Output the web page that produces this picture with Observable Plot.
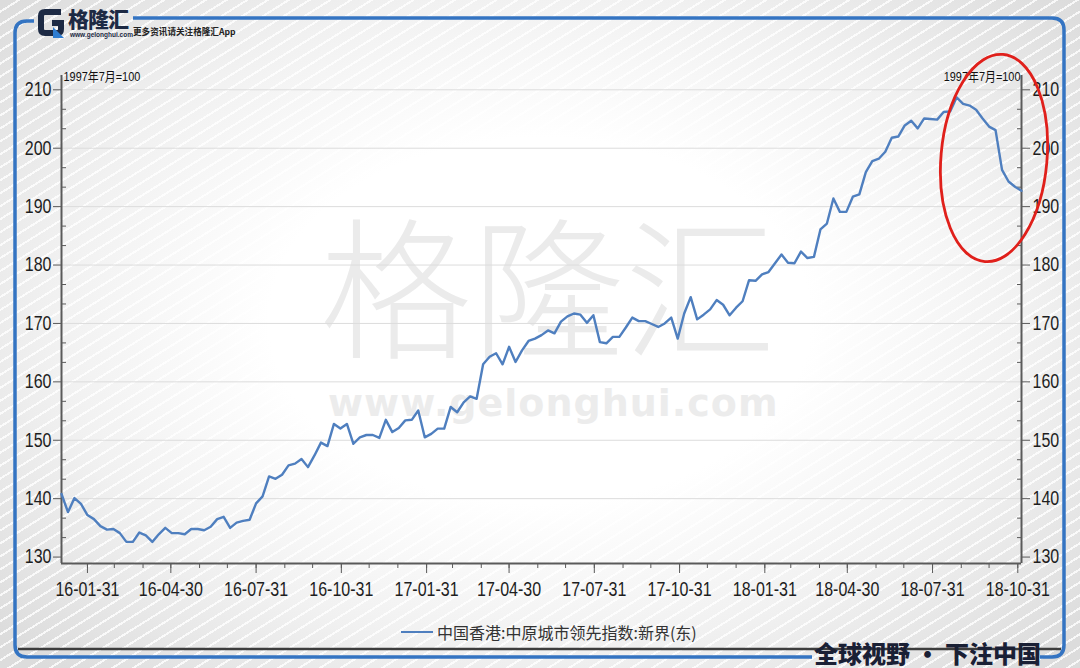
<!DOCTYPE html>
<html><head><meta charset="utf-8">
<script src="https://cdn.jsdelivr.net/npm/d3@7"></script>
<script src="https://cdn.jsdelivr.net/npm/@observablehq/plot@0.6"></script>
<style>
html,body{margin:0;padding:0;}
body{width:1080px;height:668px;position:relative;overflow:hidden;
 background:
  repeating-linear-gradient(148deg, rgba(255,255,255,0) 0px, rgba(255,255,255,0) 9px, rgba(255,255,255,0.8) 9px, rgba(255,255,255,0.8) 11px),
  radial-gradient(ellipse 66% 72% at 50% 48%, #ffffff 0%, #ffffff 38%, #f1f1f1 68%, #dcdcdc 100%);
 font-family:"Liberation Sans","Noto Sans CJK SC",sans-serif;}
.abs{position:absolute;}
#wm1{left:320px;top:205px;font-family:"Noto Sans CJK SC",sans-serif;font-size:152px;line-height:1;color:#ebebeb;font-weight:300;white-space:nowrap;}
#wm2{left:328px;top:384px;font-family:"DejaVu Sans","Liberation Sans",sans-serif;font-size:38px;font-weight:bold;letter-spacing:1px;color:#ececec;white-space:nowrap;line-height:1;}
#chart{left:0;top:0;}
#legend{left:401px;top:620px;height:24px;display:flex;align-items:center;font-family:"Noto Sans CJK SC",sans-serif;font-size:16px;color:#333;white-space:nowrap;}
#legend .sw{width:32px;height:2.5px;background:#4f7fbf;margin-right:4px;}
#slogan{left:814px;top:638px;font-family:"Noto Sans CJK SC",sans-serif;font-size:24px;font-weight:900;color:#1a2035;line-height:30px;white-space:nowrap;}
#brand{left:68px;top:5px;font-family:"Noto Sans CJK SC",sans-serif;font-size:21px;font-weight:900;color:#1d2a44;line-height:26px;letter-spacing:-1px;}
#site{left:70px;top:31px;font-family:"Liberation Sans",sans-serif;font-size:6.5px;font-weight:bold;color:#1d2a44;}
#tag{left:133px;top:25px;font-family:"Noto Sans CJK SC",sans-serif;font-size:8.6px;font-weight:bold;color:#222;}
</style></head>
<body>
<div id="wm1" class="abs">格隆汇</div>
<div id="wm2" class="abs">www.gelonghui.com</div>
<div id="chart" class="abs"></div>
<svg class="abs" style="left:0;top:0" width="1080" height="668">
  <line x1="18" y1="649" x2="1061" y2="649" stroke="#3d3d3d" stroke-width="2.5"/>
  <path d="M34,21 H27 Q15,21 15,33 V645 Q15,657 27,657 H812" fill="none" stroke="#3474c2" stroke-width="3.5"/>
  <path d="M1040,657 H1052 Q1064,657 1064,645 V30 Q1064,18 1052,18 H133" fill="none" stroke="#3474c2" stroke-width="3.5"/>
  <ellipse cx="994" cy="158" rx="53" ry="104" transform="rotate(5 994 158)" fill="none" stroke="#e0201b" stroke-width="2.8"/>
  <g transform="translate(36,7)">
    <path d="M25,5 H9 Q5,5 5,9 V22 Q5,26 9,26 H22 Q25,26 25,22 V16 H16" fill="none" stroke="#1d2a44" stroke-width="6"/>
    <polygon points="17,20 28,31 17,31" fill="#2f7dd1"/>
  </g>
</svg>
<div id="brand" class="abs">格隆汇</div>
<div id="site" class="abs">www.gelonghui.com</div>
<div id="tag" class="abs">更多资讯请关注格隆汇App</div>
<div id="legend" class="abs"><div class="sw"></div><span id="legtext"></span></div>
<div id="slogan" class="abs">全球视野 · 下注中国</div>
<script>
// ---- data ----
const seriesName = "中国香港:中原城市领先指数:新界(东)";
const unitLabel = "1997年7月=100";
const startDate = "2016-01-03"; // first weekly observation
const weeklyValues = [
 140.8,137.7,140.1,139.1,137.2,136.5,135.3,134.7,134.8,134.1,
 132.6,132.6,134.2,133.7,132.6,133.9,135.0,134.1,134.1,133.9,
 134.8,134.8,134.6,135.2,136.5,136.9,135.0,135.9,136.2,136.4,
 139.2,140.4,143.8,143.4,144.1,145.7,146.0,146.8,145.4,147.4,
 149.6,149.0,152.8,152.0,152.8,149.4,150.5,150.9,150.9,150.4,
 153.5,151.4,152.1,153.4,153.5,155.1,150.5,151.1,152.0,152.0,
 155.7,154.8,156.5,157.5,157.1,163.0,164.3,164.9,163.0,166.0,
 163.4,165.4,167.0,167.4,168.0,168.8,168.3,170.3,171.2,171.7,
 171.5,170.1,171.4,166.8,166.6,167.7,167.7,169.3,171.0,170.4,
 170.4,169.9,169.4,170.0,171.0,167.4,171.7,174.5,170.7,171.5,
 172.4,174.0,173.2,171.4,172.7,173.8,177.4,177.3,178.4,178.8,
 180.3,181.8,180.4,180.3,182.3,181.2,181.4,186.1,187.1,191.4,
 189.1,189.1,191.7,192.1,195.9,197.8,198.2,199.4,201.8,202.0,
 203.9,204.7,203.4,205.1,205.0,204.9,206.2,206.3,208.7,207.6,
 207.3,206.6,205.1,203.7,203.1,196.3,194.3,193.4,192.7
];
const xTickLabels = ["16-01-31","16-04-30","16-07-31","16-10-31","17-01-31","17-04-30",
                     "17-07-31","17-10-31","18-01-31","18-04-30","18-07-31","18-10-31"];
const yTickValues = [130,140,150,160,170,180,190,200,210];
const yDomain = [128.9, 212.45];

// ---- build ----
const t0 = d3.utcParse("%Y-%m-%d")(startDate);
const data = weeklyValues.map((v,i)=>({date: d3.utcDay.offset(t0, 7*i), value: v}));
const x0 = data[0].date, x1 = data[data.length-1].date;
const xMajor = xTickLabels.map(d3.utcParse("%y-%m-%d"));
const xMinor = d3.utcMonth.range(x0, d3.utcDay.offset(x1,1)).map(d=>d3.utcDay.offset(d,-1));
const yMinor = [];
yTickValues.slice(0,-1).forEach(v=>{yMinor.push(v+10/3, v+20/3);});
const gridVals = yTickValues.filter(v=>v>130);

document.getElementById("legtext").textContent = seriesName;

const axisColor = "#5a5a5a";
const labFont = '"Liberation Sans","Noto Sans CJK SC",sans-serif';
const chart = Plot.plot({
  width:1080, height:668,
  marginLeft:61, marginRight:59, marginTop:75, marginBottom:105,
  style:{background:"transparent", fontFamily:labFont, fontSize:"20px", color:"#1e1e1e", overflow:"visible"},
  x:{type:"utc", domain:[x0,x1]},
  y:{domain:yDomain},
  marks:[
    Plot.ruleY(gridVals, {stroke:"#dcdcdc", strokeWidth:1}),
    Plot.axisY({anchor:"left", ticks:yTickValues, tickSize:8, tickPadding:2, label:null, stroke:axisColor, fill:"#1e1e1e", fontSize:20, tickFormat:d=>String(d)}),
    Plot.axisY({anchor:"left", ticks:yMinor, tickSize:5, dx:5, label:null, stroke:axisColor, tickFormat:()=>""}),
    Plot.axisY({anchor:"right", ticks:yTickValues, tickSize:8, tickPadding:3, label:null, stroke:axisColor, fill:"#1e1e1e", fontSize:20, tickFormat:d=>String(d)}),
    Plot.axisY({anchor:"right", ticks:yMinor, tickSize:5, dx:-5, label:null, stroke:axisColor, tickFormat:()=>""}),
    Plot.axisX({anchor:"bottom", ticks:xMajor, tickSize:10, tickPadding:8, label:null, stroke:axisColor, fill:"#1e1e1e", fontSize:20, tickFormat:(d,i)=>xTickLabels[i]}),
    Plot.axisX({anchor:"bottom", ticks:xMinor, tickSize:5, label:null, stroke:axisColor, tickFormat:()=>""}),
    Plot.ruleX([x0], {stroke:axisColor, strokeWidth:2}),
    Plot.ruleX([x1], {stroke:axisColor, strokeWidth:2}),
    Plot.ruleY([yDomain[0]], {stroke:axisColor, strokeWidth:2}),
    Plot.line(data, {x:"date", y:"value", stroke:"#4f7fbf", strokeWidth:2.4}),
    Plot.text([unitLabel], {frameAnchor:"top-left", textAnchor:"start", lineAnchor:"bottom", dx:2, dy:5, fontSize:13, fill:"#111"}),
    Plot.text([unitLabel], {frameAnchor:"top-right", textAnchor:"end", lineAnchor:"bottom", dx:-1, dy:5, fontSize:13, fill:"#111"})
  ]
});
document.getElementById("chart").appendChild(chart);

// condense text horizontally (narrow face like the original), keeping its anchor point
function condense(t, k){
  if (!t.textContent) return;
  const b = t.getBBox();
  const anchor = getComputedStyle(t).textAnchor;
  const ax = anchor === "end" ? b.x + b.width : anchor === "middle" ? b.x + b.width/2 : b.x;
  const tr = t.getAttribute("transform") || "";
  t.setAttribute("transform", `${tr} translate(${ax},0) scale(${k},1) translate(${-ax},0)`);
}
chart.querySelectorAll('g[aria-label$="tick label"] text').forEach(t=>condense(t, 0.8));
chart.querySelectorAll('g[aria-label="text"] text').forEach(t=>condense(t, 0.84));
</script>
</body></html>
